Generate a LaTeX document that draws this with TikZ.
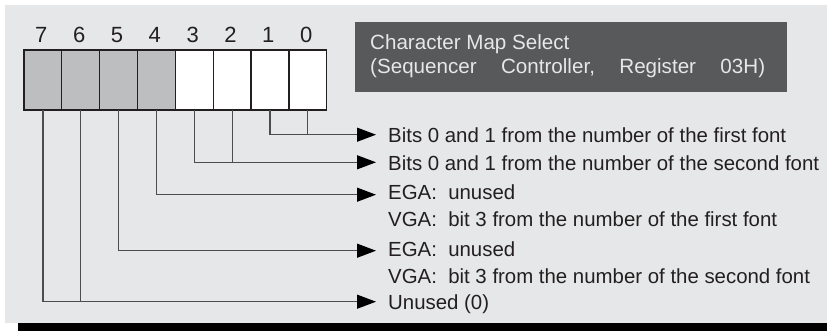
\documentclass[tikz,border=0pt]{standalone}
\usepackage{fontspec}
\setmainfont{Liberation Sans}
\usetikzlibrary{arrows.meta,calc}
\definecolor{bgc}{HTML}{E6E7E8}
\definecolor{hdrc}{HTML}{58595B}
\definecolor{cellg}{HTML}{BCBEC0}
\definecolor{ink}{HTML}{231F20}
\definecolor{wirec}{HTML}{4D4D4F}
\tikzset{
  cell/.style={draw=ink, line width=1.3pt, minimum width=37.84pt, minimum height=60pt, inner sep=0pt, outer sep=0pt},
  digit/.style={anchor=base, inner sep=0pt, text=ink, font=\fontsize{22}{26}\selectfont},
  lbl/.style={anchor=base west, inner sep=0pt, text=ink, font=\fontsize{20.4}{26}\selectfont},
  hdrtext/.style={anchor=base west, inner sep=0pt, text=bgc, font=\fontsize{20.6}{26}\selectfont},
  wire/.style={draw=wirec, line width=1.2pt, -{Triangle[length=19pt,width=14pt,color=black]}},
  wireplain/.style={draw=wirec, line width=1.2pt},
}
\begin{document}
\begin{tikzpicture}[x=1pt,y=-1pt]
\useasboundingbox (0,0) rectangle (827,331);
\fill[white] (0,0) rectangle (827,331);
\fill[bgc] (5,5) rectangle (827,322.5);
\fill[black] (18,322.5) rectangle (827,331);
% header
\node[fill=hdrc, minimum width=431.7pt, minimum height=70pt, inner sep=0pt] (hdr) at (570.85,56.7) {};
\node[hdrtext] (h1) at (370,49.3) {Character Map Select};
\node[hdrtext] (h2) at (370,74) {\hbox to 395pt{(Sequencer\hfill Controller,\hfill Register\hfill 03H)}};
% cells
\foreach \i in {0,...,7}{
  \pgfmathsetmacro{\cx}{24+(7-\i)*37.84+18.92}
  \ifnum\i>3
    \node[cell, fill=cellg] (b\i) at (\cx,80) {};
  \else
    \node[cell, fill=white] (b\i) at (\cx,80) {};
  \fi
  \node[digit] (d\i) at (\cx-1.6,42.7) {\i};
}
% arrow tip coordinates
\coordinate (a1) at (376,134.7);
\coordinate (a2) at (376,162.3);
\coordinate (a3) at (376,194.7);
\coordinate (a4) at (376,250.7);
\coordinate (a5) at (376,301.7);
% wires
\draw[wire] (b1.south) |- (a1);
\draw[wireplain] (b0.south) -- (b0.south |- a1);
\draw[wire] (b3.south) |- (a2);
\draw[wireplain] (b2.south) -- (b2.south |- a2);
\draw[wire] (b4.south) |- (a3);
\draw[wire] (b5.south) |- (a4);
\draw[wire] (b7.south) |- (a5);
\draw[wireplain] (b6.south) -- (b6.south |- a5);
% labels
\node[lbl] (t1) at (388,142.7) {Bits 0 and 1 from the number of the first font};
\node[lbl] (t2) at (388,171) {Bits 0 and 1 from the number of the second font};
\node[lbl] (t3) at (388,200) {EGA:\ \ unused};
\node[lbl] (t3b) at (388,226) {VGA:\ \ bit 3 from the number of the first font};
\node[lbl] (t4) at (388,256.7) {EGA:\ \ unused};
\node[lbl] (t4b) at (388,283.3) {VGA:\ \ bit 3 from the number of the second font};
\node[lbl] (t5) at (388,309.3) {Unused (0)};
\end{tikzpicture}
\end{document}
